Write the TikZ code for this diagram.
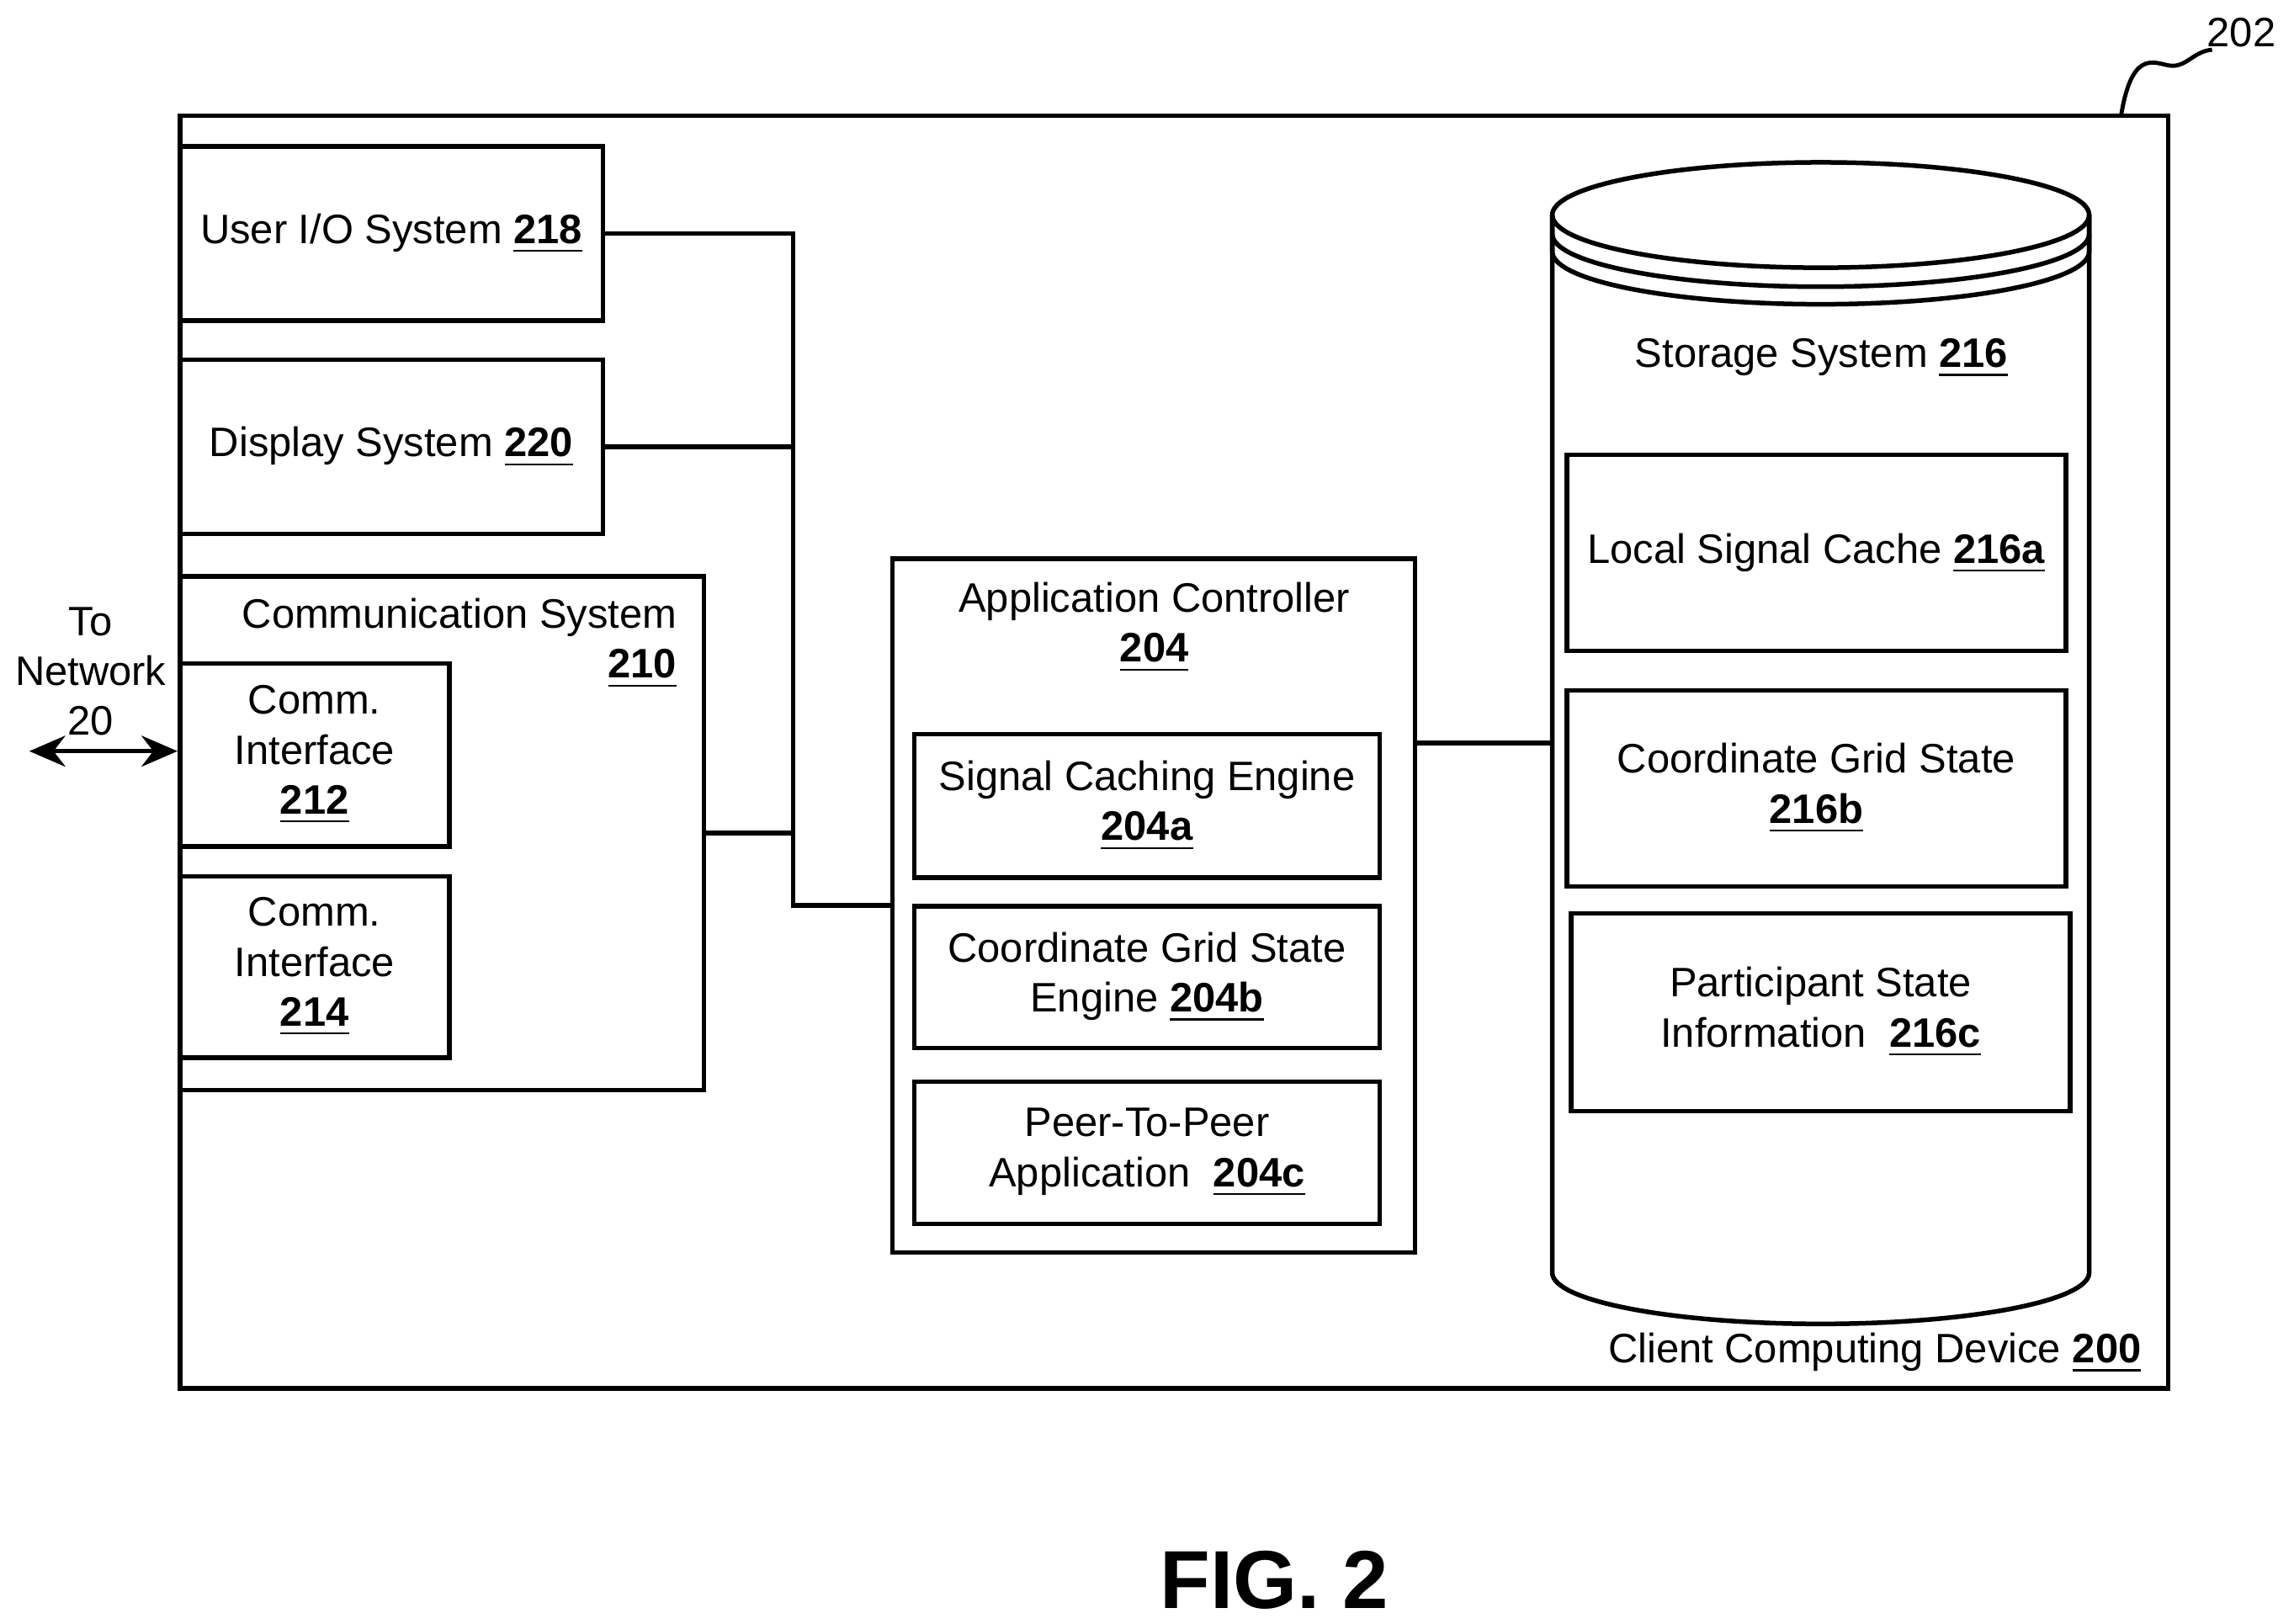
\documentclass[tikz,border=0pt]{standalone}
\usepackage{fontspec}
\setmainfont{Liberation Sans}
\usetikzlibrary{positioning,calc,arrows.meta}
\newcommand{\refn}[1]{\underline{\textbf{#1}}}
\begin{document}
\begin{tikzpicture}[x=0.01cm,y=-0.01cm,
    box/.style={draw,line width=0.9pt,inner sep=0pt,align=center,font=\fontsize{8}{9.7}\selectfont},
    conn/.style={line width=0.9pt}]
  \useasboundingbox (0,0) rectangle (1568,1110);
  % outer device
  \draw[line width=0.9pt] (123,79) rectangle (1482,949);
  \node[anchor=east,font=\fontsize{8}{9.7}\selectfont] (dev) at (1476,925) {Client Computing Device \refn{200}};
  \node[font=\fontsize{8}{9.7}\selectfont] (n202) at (1532,22) {202};
  \draw[line width=0.8pt] (1450,78) .. controls (1458,30) and (1475,45) .. (1485,45) .. controls (1495,45) and (1500,35) .. (1512,34);
  % left column
  \node[box,minimum width=2.89cm,minimum height=1.19cm] (uio) at (267.5,159.5) {\strut User I/O System \refn{218}};
  \node[box,minimum width=2.89cm,minimum height=1.19cm] (disp) at (267.5,305.5) {\strut Display System \refn{220}};
  \node[box,minimum width=3.58cm,minimum height=3.51cm] (comm) at (302,569.5) {};
  \node[anchor=east,align=right,font=\fontsize{8}{9.7}\selectfont] at (475,440) {Communication System\\\refn{210}};
  \node[box,minimum width=1.84cm,minimum height=1.25cm] (ci212) at (215,516) {Comm.\\Interface\\\refn{212}};
  \node[box,minimum width=1.84cm,minimum height=1.24cm] (ci214) at (215,661) {Comm.\\Interface\\\refn{214}};
  \node[align=center,font=\fontsize{8}{9.7}\selectfont] (tonet) at (62,459) {To\\Network\\20};
  \coordinate (net) at (20,513.5);
  \draw[conn,{Stealth[length=7pt,width=6pt]}-{Stealth[length=7pt,width=6pt]}] (net) -- (ci212.west |- net);
  % application controller
  \node[box,minimum width=3.57cm,minimum height=4.74cm] (app) at (788.5,619) {};
  \node[align=center,font=\fontsize{8}{9.7}\selectfont] at (789,429) {Application Controller\\\refn{204}};
  \node[box,minimum width=3.18cm,minimum height=0.98cm] (sce) at (784,551) {Signal Caching Engine\\\refn{204a}};
  \node[box,minimum width=3.18cm,minimum height=0.97cm] (cgse) at (784,668) {Coordinate Grid State\\Engine \refn{204b}};
  \node[box,minimum width=3.18cm,minimum height=0.97cm] (p2p) at (784,788) {Peer-To-Peer\\Application\ \ \refn{204c}};
  % storage cylinder
  \draw[line width=0.9pt] (1061,147) -- (1061,870) arc[start angle=180,end angle=0,x radius=183.5,y radius=35] -- (1428,147);
  \draw[line width=0.9pt] (1244.5,147) ellipse[x radius=183.5,y radius=36];
  \draw[line width=0.9pt] (1061,147) -- (1061,172) arc[start angle=180,end angle=0,x radius=183.5,y radius=36] -- (1428,147);
  \draw[line width=0.9pt] (1061,160) arc[start angle=180,end angle=0,x radius=183.5,y radius=36];
  \node[font=\fontsize{8}{9.7}\selectfont] (stor) at (1245,245) {Storage System \refn{216}};
  \node[box,minimum width=3.41cm,minimum height=1.34cm] (lsc) at (1241.5,378) {\strut Local Signal Cache \refn{216a}};
  \node[box,minimum width=3.41cm,minimum height=1.34cm] (cgs) at (1241.5,539) {Coordinate Grid State\\\refn{216b}};
  \node[box,minimum width=3.41cm,minimum height=1.35cm] (psi) at (1244.5,692) {Participant State\\Information\ \ \refn{216c}};
  \coordinate (stL) at (1061,508);
  % connectors
  \coordinate (jt) at (542,159.5);
  \coordinate (jb) at (542,619);
  \draw[conn] (uio.east) -- (jt) -- (jb) -- (app.west);
  \draw[conn] (disp.east) -- (disp.east -| jt);
  \draw[conn] (comm.east) -- (comm.east -| jt);
  \draw[conn] (app.east |- stL) -- (stL);
  % caption
  \node[font=\fontsize{16}{19}\selectfont\bfseries] (fig) at (871,1080) {FIG. 2};
\end{tikzpicture}
\end{document}
